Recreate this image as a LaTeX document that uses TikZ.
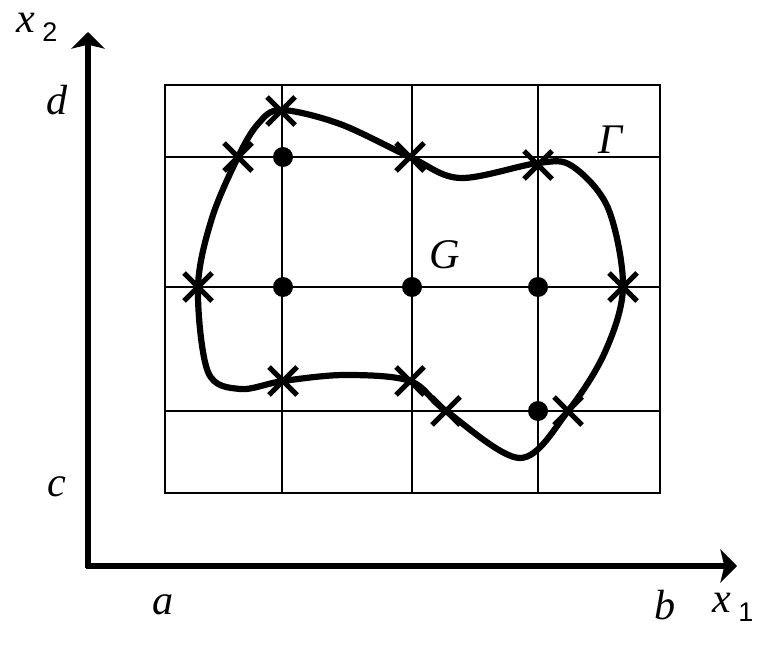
\documentclass[tikz,border=0pt]{standalone}
\usepackage{fontspec}
\setmainfont{Liberation Serif}
\setsansfont{Liberation Sans}
\usetikzlibrary{arrows.meta}

\tikzset{
	gridline/.style={line width=1.7pt},
	axis/.style={line width=4.5pt, -{Stealth[length=0.5cm, width=1cm, inset=0.12cm]}},
	lbl/.style={font=\fontsize{36}{42}\selectfont\itshape, inner sep=0pt},
	knot/.pic={\draw[line width=4.3pt] (-14,-14) -- (14,14) (-14,14) -- (14,-14);}
}

\begin{document}
\begin{tikzpicture}[x=0.03cm, y=-0.03cm]
	\useasboundingbox (0,0) rectangle (780,650);
	
	% grid over the rectangle
	\draw[gridline] (165,85) rectangle (660,493);
	\foreach \gx in {282,412,538} \draw[gridline] (\gx,85) -- (\gx,493);
	\foreach \gy in {157,287,411} \draw[gridline] (165,\gy) -- (660,\gy);
	
	% axes
	\coordinate (origin) at (88,566);
	\coordinate (xtip) at (737,566);
	\coordinate (ytip) at (88,32);
	\draw[axis] ([xshift=-2pt]origin) -- (xtip);
	\draw[axis] ([yshift=-2pt]origin) -- (ytip);
	
	% boundary of the region
	\draw[line width=5.3pt, line join=round] plot[smooth cycle, tension=0.55] coordinates {
		(281,110) (340,124) (410,157) (460,178) (538,163) (572,166)
		(608,208) (623,287) (605,352) (568,411) (520,458)
		(446,411) (410,381) (345,375) (283,381) (240,389) (208,372)
		(198,287) (212,218) (238,157) (258,124)};
	
	% interior nodes
	\foreach \p in {(283,157),(283,287),(412,287),(538,287),(538,411)}
		\fill \p circle[radius=10];
	
	% boundary nodes
	\foreach \p in {(281,111),(238,157),(410,157),(538,165),(198,287),
		(623,287),(283,381),(410,381),(446,411),(568,411)}
		\pic at \p {knot};
	
	% labels
	\node[lbl] (lx2) at (37,27) {x\hspace{6pt}\raisebox{-0.45ex}{\upshape\sffamily\fontsize{23}{26}\selectfont 2}};
	\node[lbl] (ld) at (57,100) {d};
	\node[lbl] (lc) at (57,487) {c};
	\node[lbl] (la) at (163,605) {a};
	\node[lbl] (lb) at (665,605) {b};
	\node[lbl] (lx1) at (733,607) {x\hspace{6pt}\raisebox{-0.45ex}{\upshape\sffamily\fontsize{23}{26}\selectfont 1}};
	\node[lbl] (lgamma) at (610,140) {Γ};
	\node[lbl] (lg) at (445,255) {G};
\end{tikzpicture}
\end{document}
